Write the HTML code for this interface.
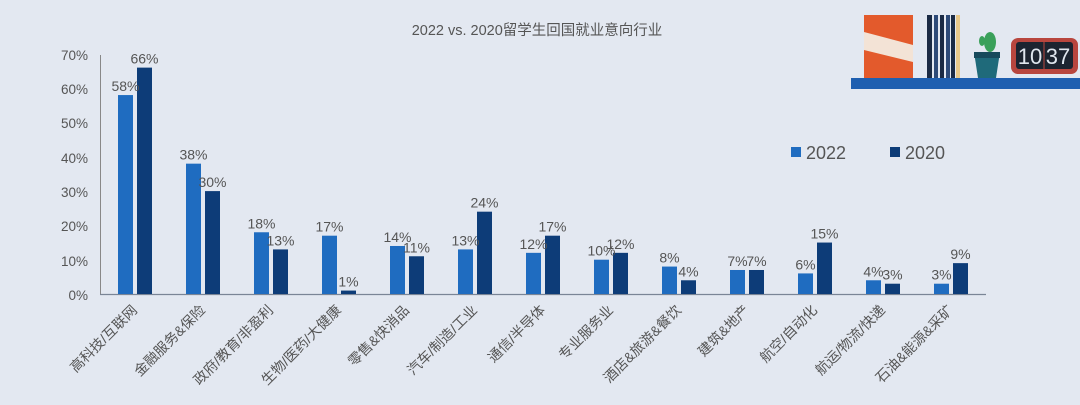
<!DOCTYPE html>
<html><head><meta charset="utf-8"><style>
html,body{margin:0;padding:0;background:#e3e8f1;}
svg{display:block;font-family:"Liberation Sans","Noto Sans CJK SC",sans-serif;}
</style></head><body>
<svg width="1080" height="405" viewBox="0 0 1080 405" xmlns="http://www.w3.org/2000/svg">
<rect width="1080" height="405" fill="#e3e8f1"/>
<text x="537" y="35" text-anchor="middle" font-size="14.5" fill="#555">2022 vs. 2020留学生回国就业意向行业</text>
<!-- decoration -->
<rect x="851" y="78" width="229" height="11" fill="#1f5fb0"/>
<rect x="864" y="15" width="49" height="63" fill="#e35a2c"/>
<polygon points="864,32 913,45 913,62 864,50" fill="#f3e3d6"/>
<rect x="927" y="15" width="5" height="63" fill="#1a2a44"/>
<rect x="934" y="15" width="4" height="63" fill="#2d4a78"/>
<rect x="940" y="15" width="4" height="63" fill="#1a2a44"/>
<rect x="946" y="15" width="4" height="63" fill="#2d4a78"/>
<rect x="951" y="15" width="4" height="63" fill="#1a2a44"/>
<rect x="956" y="15" width="4" height="63" fill="#e8c88a"/>
<ellipse cx="990" cy="42" rx="6" ry="10" fill="#3aa05a"/>
<ellipse cx="982" cy="41" rx="3" ry="5" fill="#3aa05a"/>
<polygon points="974,52 1000,52 996,78 978,78" fill="#1f6a7a"/>
<rect x="974" y="52" width="26" height="6" fill="#174a5c"/>
<rect x="1011" y="38" width="67" height="36" rx="7" fill="#b8463e"/>
<rect x="1016" y="42" width="57" height="27" rx="3" fill="#1c2430"/>
<text x="1030" y="64" text-anchor="middle" font-size="22" fill="#dfe6ee">10</text>
<text x="1058" y="64" text-anchor="middle" font-size="22" fill="#dfe6ee">37</text>
<line x1="1044" y1="42" x2="1044" y2="69" stroke="#b8463e" stroke-width="1"/>
<!-- axes -->
<line x1="100.5" y1="55" x2="100.5" y2="295" stroke="#888" stroke-width="1"/>
<line x1="100" y1="294.5" x2="986" y2="294.5" stroke="#7a8596" stroke-width="1.2"/>
<g font-size="13.5" fill="#555" text-anchor="end">
<text x="88" y="300">0%</text><text x="88" y="266">10%</text><text x="88" y="231">20%</text><text x="88" y="197">30%</text><text x="88" y="163">40%</text><text x="88" y="128">50%</text><text x="88" y="94">60%</text><text x="88" y="60">70%</text>
</g>
<!-- legend -->
<rect x="791" y="147" width="10" height="10" fill="#1f6cc0"/>
<text x="806" y="159" font-size="18" fill="#555">2022</text>
<rect x="890" y="147" width="10" height="10" fill="#0d3c78"/>
<text x="905" y="159" font-size="18" fill="#555">2020</text>
<g id="bars"></g>
<g id="labels" font-size="14" fill="#555"></g>
<g id="cats" font-size="14" fill="#555"></g>
</svg>
<script>
var a=[58,38,18,17,14,13,12,10,8,7,6,4,3],b=[66,30,13,1,11,24,17,12,4,7,15,3,9];
var n=["高科技/互联网","金融服务&保险","政府/教育/非盈利","生物/医药/大健康","零售&快消品","汽车/制造/工业","通信/半导体","专业服务业","酒店&旅游&餐饮","建筑&地产","航空/自动化","航运/物流/快递","石油&能源&采矿"];
var ns="http://www.w3.org/2000/svg",B=document.getElementById("bars"),L=document.getElementById("labels"),C=document.getElementById("cats");
function el(p,t,at,tx){var e=document.createElementNS(ns,t);for(var k in at)e.setAttribute(k,at[k]);if(tx)e.textContent=tx;p.appendChild(e);}
for(var i=0;i<13;i++){var c=135+68*i;
[[a[i],c-17,"#1f6cc0"],[b[i],c+2,"#0d3c78"]].forEach(function(d){var h=d[0]*3.43;
el(B,"rect",{x:d[1],y:294-h,width:15,height:h,fill:d[2]});
el(L,"text",{x:d[1]+7.5,y:294-h-4,"text-anchor":"middle"},d[0]+"%");});
el(C,"text",{x:c+3,y:311,"text-anchor":"end",transform:"rotate(-45 "+(c+3)+" 311)"},n[i]);}
</script>
</body></html>
